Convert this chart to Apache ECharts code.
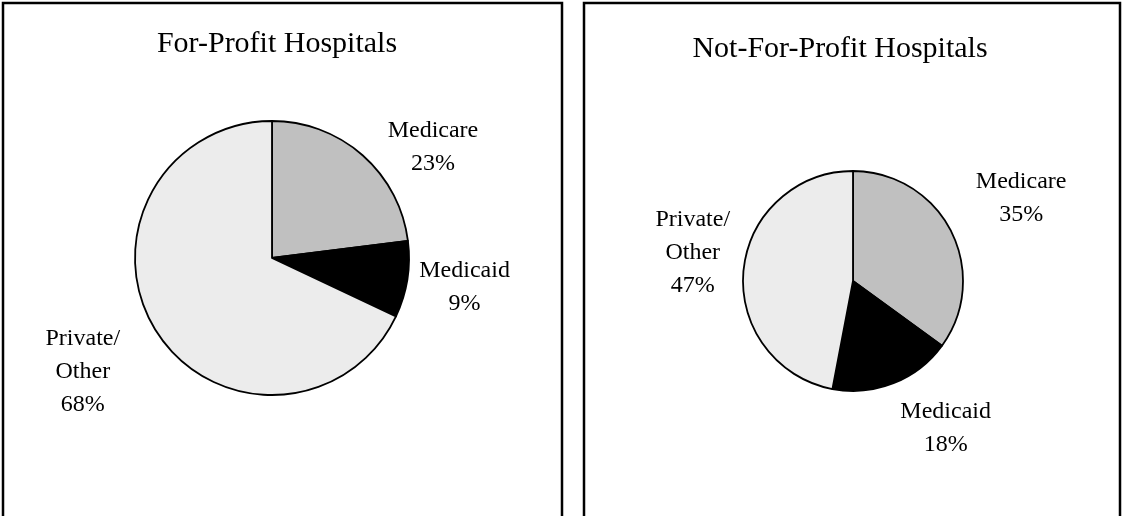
<!DOCTYPE html>
<html>
<head>
<meta charset="utf-8">
<script src="https://cdn.jsdelivr.net/npm/echarts@6/dist/echarts.min.js"></script>
<style>
  html, body { margin: 0; padding: 0; background: #ffffff; }
  #chart { width: 1122px; height: 516px; }
</style>
</head>
<body>
<div id="chart"></div>
<script>
// Payer mix (share of patient revenue, %) by hospital ownership
const categories = ['Medicare', 'Medicaid', 'Private/\nOther'];
const forProfitShares = [23, 9, 68];
const notForProfitShares = [35, 18, 47];
const panelTitles = ['For-Profit Hospitals', 'Not-For-Profit Hospitals'];

const sliceColors = ['#c0c0c0', '#000000', '#ececec'];
const FONT = '"Liberation Serif", "Times New Roman", serif';

// panel frames, pie geometry and label nudges
const panels = [
  { x: 3, w: 559, titleX: 272, titleY: 24, cx: 272, cy: 258, r: 137, labelDist: 195,
    nudge: [[30, 38], [-3, -2], [-22, 8]], values: forProfitShares },
  { x: 584, w: 536, titleX: 835, titleY: 29, cx: 853, cy: 281, r: 110, labelDist: 170,
    nudge: [[14, -4], [29, -14], [12, -12]], values: notForProfitShares }
];

const chart = echarts.init(document.getElementById('chart'), null, { renderer: 'canvas' });

const series = [];
panels.forEach(function (p) {
  const items = categories.map(function (name, i) {
    return { name: name, value: p.values[i], itemStyle: { color: sliceColors[i] } };
  });
  // the pie itself
  series.push({
    type: 'pie',
    center: [p.cx, p.cy],
    radius: [0, p.r],
    startAngle: 90,
    clockwise: true,
    animation: false,
    silent: true,
    label: { show: false },
    labelLine: { show: false },
    itemStyle: { borderColor: '#000000', borderWidth: 1.8 },
    data: items
  });
  // a transparent ring that carries the category labels at their mid-angles
  series.push({
    type: 'pie',
    center: [p.cx, p.cy],
    radius: [0, p.labelDist * 2],
    startAngle: 90,
    clockwise: true,
    animation: false,
    silent: true,
    z: 5,
    itemStyle: { color: 'rgba(0,0,0,0)', borderWidth: 0 },
    labelLine: { show: false },
    data: categories.map(function (name, i) {
      return {
        name: name,
        value: p.values[i],
        label: { offset: p.nudge[i] }
      };
    }),
    label: {
      show: true,
      position: 'inside',
      formatter: function (d) { return d.name + '\n' + d.value + '%'; },
      color: '#000000',
      fontFamily: FONT,
      fontSize: 24,
      lineHeight: 33,
      align: 'center'
    }
  });
});

chart.setOption({
  backgroundColor: '#ffffff',
  animation: false,
  title: panels.map(function (p, i) {
    return {
      text: panelTitles[i],
      left: p.titleX,
      top: p.titleY,
      textAlign: 'center',
      textStyle: { fontFamily: FONT, fontSize: 30, fontWeight: 'normal', color: '#000000' }
    };
  }),
  graphic: panels.map(function (p) {
    return {
      type: 'rect',
      silent: true,
      shape: { x: p.x, y: 3, width: p.w, height: 540 },
      style: { fill: null, stroke: '#000000', lineWidth: 2.5 }
    };
  }),
  series: series
});
</script>
</body>
</html>
